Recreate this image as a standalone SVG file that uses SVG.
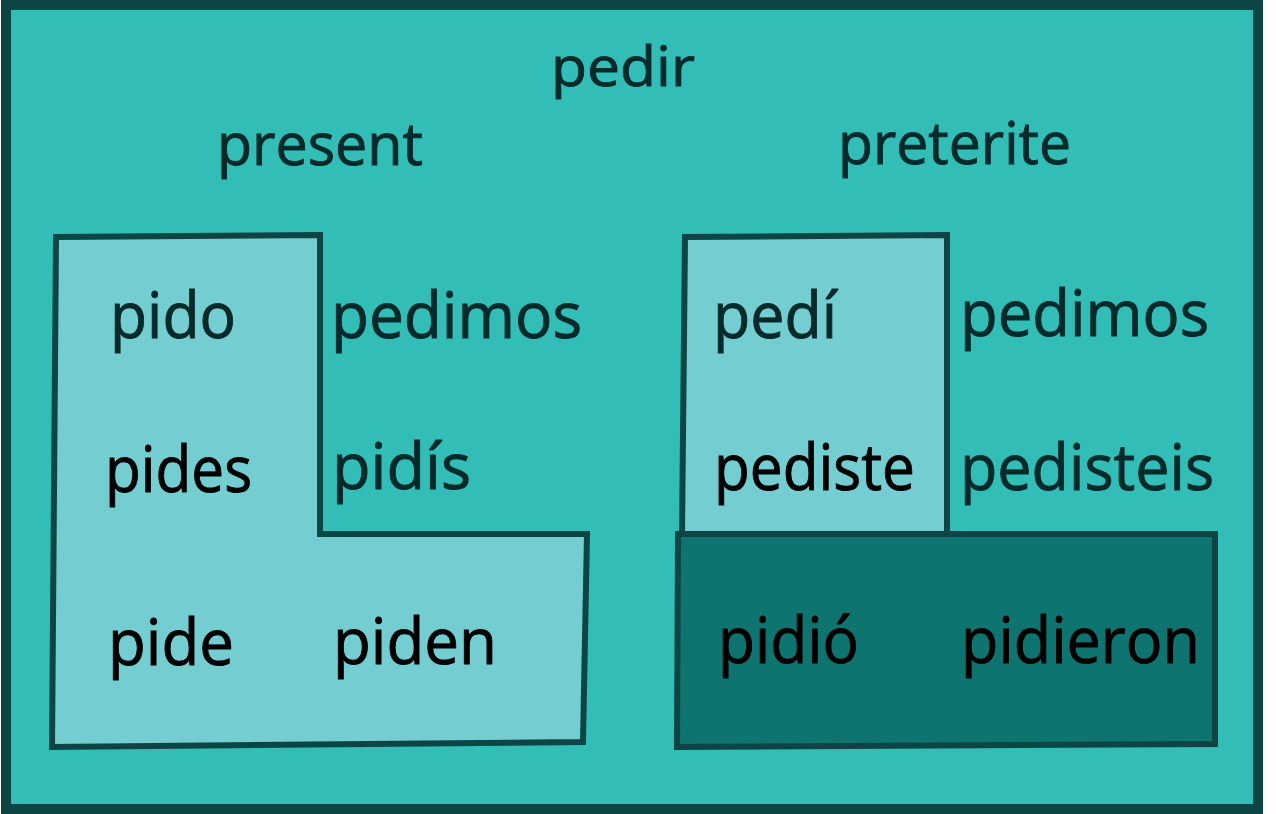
<svg xmlns="http://www.w3.org/2000/svg" width="1276" height="814" viewBox="0 0 1276 814">
<style>
text{font-family:"Open Sans","Noto Sans","Liberation Sans",sans-serif;stroke-width:0.9;}
.w{font-size:64px;}
.h{font-size:59px;}
.t{fill:#06292A;stroke:#06292A;}
.k{fill:#000000;stroke:#000000;}
.box{stroke:#0D4544;stroke-width:6;stroke-linejoin:miter;}
</style>
<rect width="1276" height="814" fill="#FFFFFF"/>
<g id="frame">
<rect x="6" y="5" width="1252" height="804" fill="#32BDB7" stroke="#0D4544" stroke-width="10"/>
</g>
<g id="titles">
<text x="551" y="86" font-size="55" class="t" textLength="144" lengthAdjust="spacingAndGlyphs">pedir</text>
<text x="217" y="165" class="h t" textLength="206" lengthAdjust="spacingAndGlyphs">present</text>
<text x="838" y="164" class="h t" textLength="233" lengthAdjust="spacingAndGlyphs">preterite</text>
</g>
<g id="present-irregular">
<polygon class="box" fill="#74CDD0" points="56,237 320,235 320,534 587,534 583,742 52,747"/>
</g>
<g id="preterite-yo-tu">
<polygon class="box" fill="#74CDD0" points="685,237 947,235 947,534 682,534"/>
</g>
<g id="preterite-third">
<polygon class="box" fill="#0D746F" points="678,534 1215,534 1215,744 677,747"/>
</g>
<g id="forms">
<text x="110" y="338" class="w t" textLength="126" lengthAdjust="spacingAndGlyphs">pido</text>
<text x="331" y="338" class="w t" textLength="251" lengthAdjust="spacingAndGlyphs">pedimos</text>
<text x="713" y="338" class="w t" textLength="124" lengthAdjust="spacingAndGlyphs">pedí</text>
<text x="960" y="336" class="w t" textLength="249" lengthAdjust="spacingAndGlyphs">pedimos</text>
<text x="105" y="492" class="w k" textLength="147" lengthAdjust="spacingAndGlyphs">pides</text>
<text x="332" y="489" class="w t" textLength="139" lengthAdjust="spacingAndGlyphs">pidís</text>
<text x="714" y="490" class="w k" textLength="201" lengthAdjust="spacingAndGlyphs">pediste</text>
<text x="960" y="490" class="w t" textLength="254" lengthAdjust="spacingAndGlyphs">pedisteis</text>
<text x="108" y="665" class="w k" textLength="126" lengthAdjust="spacingAndGlyphs">pide</text>
<text x="333" y="664" class="w k" textLength="164" lengthAdjust="spacingAndGlyphs">piden</text>
<text x="718" y="663" class="w k" textLength="141" lengthAdjust="spacingAndGlyphs">pidió</text>
<text x="961" y="663" class="w k" textLength="239" lengthAdjust="spacingAndGlyphs">pidieron</text>
</g>
</svg>
